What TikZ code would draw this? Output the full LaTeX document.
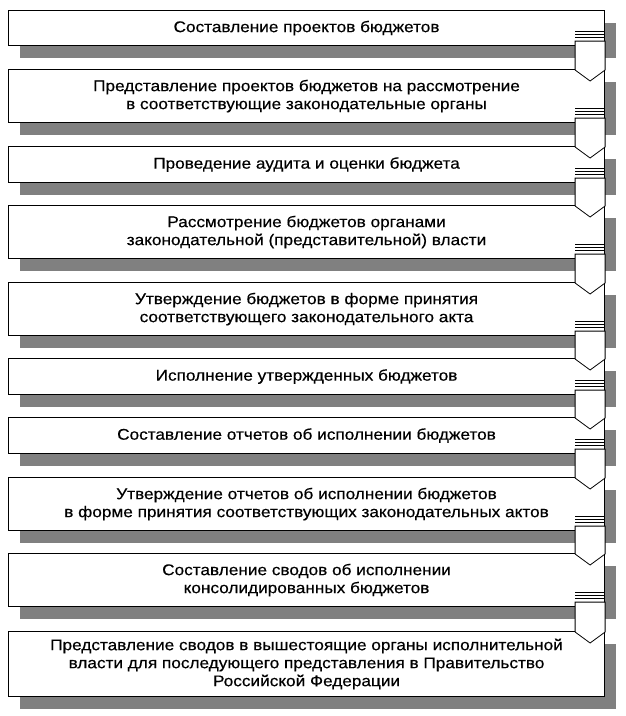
\documentclass[tikz,border=0pt]{standalone}
\usepackage{fontspec}
\setmainfont{Liberation Sans}[FakeStretch=1.11, FakeBold=0.4]
\usepackage{tikz}
\usetikzlibrary{shadows}

\begin{document}
\begin{tikzpicture}[x=1pt, y=1pt, stage/.style={rectangle, draw, line width=1.1pt, fill=white, minimum width=596pt, inner sep=0pt, anchor=north west, align=center, font=\fontsize{15.5}{18}\selectfont, drop shadow={shadow xshift=11pt, shadow yshift=-12pt, fill=black!50, opacity=1}}, pointer/.style={draw, line width=0.8pt, fill=white}, stripe/.style={line width=0.8pt}]
\useasboundingbox (0,0) rectangle (625,-716);
\node [stage, minimum height=35pt] (b1) at (8,-10) {Составление проектов бюджетов};
\node [stage, minimum height=53pt] (b2) at (8,-69) {Представление проектов бюджетов на рассмотрение\\в соответствующие законодательные органы};
\node [stage, minimum height=36pt] (b3) at (8,-146) {Проведение аудита и оценки бюджета};
\node [stage, minimum height=53pt] (b4) at (8,-205) {Рассмотрение бюджетов органами\\законодательной (представительной) власти};
\node [stage, minimum height=53pt] (b5) at (8,-282) {Утверждение бюджетов в форме принятия\\соответствующего законодательного акта};
\node [stage, minimum height=36pt] (b6) at (8,-358) {Исполнение утвержденных бюджетов};
\node [stage, minimum height=36pt] (b7) at (8,-417) {Составление отчетов об исполнении бюджетов};
\node [stage, minimum height=53pt] (b8) at (8,-477) {Утверждение отчетов об исполнении бюджетов\\в форме принятия соответствующих законодательных актов};
\node [stage, minimum height=53pt] (b9) at (8,-553) {Составление сводов об исполнении\\консолидированных бюджетов};
\node [stage, minimum height=65pt] (b10) at (8,-631) {Представление сводов в вышестоящие органы исполнительной\\власти для последующего представления в Правительство\\Российской Федерации};
\foreach \a/\b in {b1/b2, b2/b3, b3/b4, b4/b5, b5/b6, b6/b7, b7/b8, b8/b9, b9/b10} {
  \draw [pointer] ([xshift=-30pt, yshift=5pt]\a.south east) -- ([xshift=-30pt, yshift=-1pt]\b.north east) -- ([xshift=-15pt, yshift=-12pt]\b.north east) -- ([yshift=-1pt]\b.north east) -- ([yshift=5pt]\a.south east) -- cycle;
  \draw [stripe] ([xshift=-30pt, yshift=15pt]\a.south east) -- ([yshift=15pt]\a.south east);
  \draw [stripe] ([xshift=-30pt, yshift=11.7pt]\a.south east) -- ([yshift=11.7pt]\a.south east);
  \draw [stripe] ([xshift=-30pt, yshift=8.3pt]\a.south east) -- ([yshift=8.3pt]\a.south east);
}
\end{tikzpicture}
\end{document}
